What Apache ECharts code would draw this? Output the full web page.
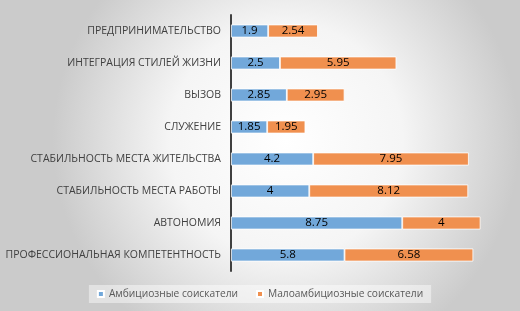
<!DOCTYPE html>
<html>
<head>
<meta charset="utf-8">
<script src="https://cdn.jsdelivr.net/npm/echarts@6/dist/echarts.min.js"></script>
<style>
    html, body { margin: 0; padding: 0; }
    #chart { width: 520px; height: 311px; }
</style>
</head>
<body>
<div id="chart"></div>
<script>
    // категории снизу вверх
    const categories = ['ПРОФЕССИОНАЛЬНАЯ КОМПЕТЕНТНОСТЬ', 'АВТОНОМИЯ', 'СТАБИЛЬНОСТЬ МЕСТА РАБОТЫ', 'СТАБИЛЬНОСТЬ МЕСТА ЖИТЕЛЬСТВА', 'СЛУЖЕНИЕ', 'ВЫЗОВ', 'ИНТЕГРАЦИЯ СТИЛЕЙ ЖИЗНИ', 'ПРЕДПРИНИМАТЕЛЬСТВО']
    const ambitious = [5.8, 8.75, 4, 4.2, 1.85, 2.85, 2.5, 1.9]
    const lowAmbitious = [6.58, 4, 8.12, 7.95, 1.95, 2.95, 5.95, 2.54]
    const seriesNames = ['Амбициозные соискатели', 'Малоамбициозные соискатели']

    const chart = echarts.init(document.getElementById('chart'))
    const barLabel = {
        show: true,
        position: 'inside',
        color: '#000',
        fontSize: 11.5,
        fontFamily: 'Open Sans'
    }
    chart.setOption({
        backgroundColor: new echarts.graphic.RadialGradient(0.55, 0.45, 0.75, [
            {offset: 0, color: '#ffffff'},
            {offset: 0.5, color: '#f5f5f5'},
            {offset: 1, color: '#cbcbcb'}
        ]),
        grid: {
            left: 231,
            right: 15,
            top: 15,
            bottom: 40
        },
        legend: {
            bottom: 8,
            left: 'center',
            itemWidth: 6,
            itemHeight: 6,
            itemGap: 18,
            icon: 'rect',
            backgroundColor: 'rgba(255,255,255,0.45)',
            padding: [4, 8],
            textStyle: {color: '#595959', fontSize: 10.2, fontFamily: 'Open Sans'},
            data: seriesNames
        },
        xAxis: {
            type: 'value',
            min: 0,
            max: 14,
            show: false
        },
        yAxis: {
            type: 'category',
            data: categories,
            axisLine: {lineStyle: {color: '#404040', width: 2}},
            axisTick: {show: false},
            axisLabel: {color: '#404040', fontSize: 10.5, fontFamily: 'Open Sans', margin: 10}
        },
        series: [
            {
                name: seriesNames[0],
                type: 'bar',
                stack: 'total',
                barWidth: 13,
                data: ambitious,
                label: barLabel,
                itemStyle: {color: '#72a8da', borderColor: '#fff', borderWidth: 0.8}
            },
            {
                name: seriesNames[1],
                type: 'bar',
                stack: 'total',
                barWidth: 13,
                data: lowAmbitious,
                label: barLabel,
                itemStyle: {color: '#f0904f', borderColor: '#fff', borderWidth: 0.8}
            }
        ]
    })
</script>
</body>
</html>
